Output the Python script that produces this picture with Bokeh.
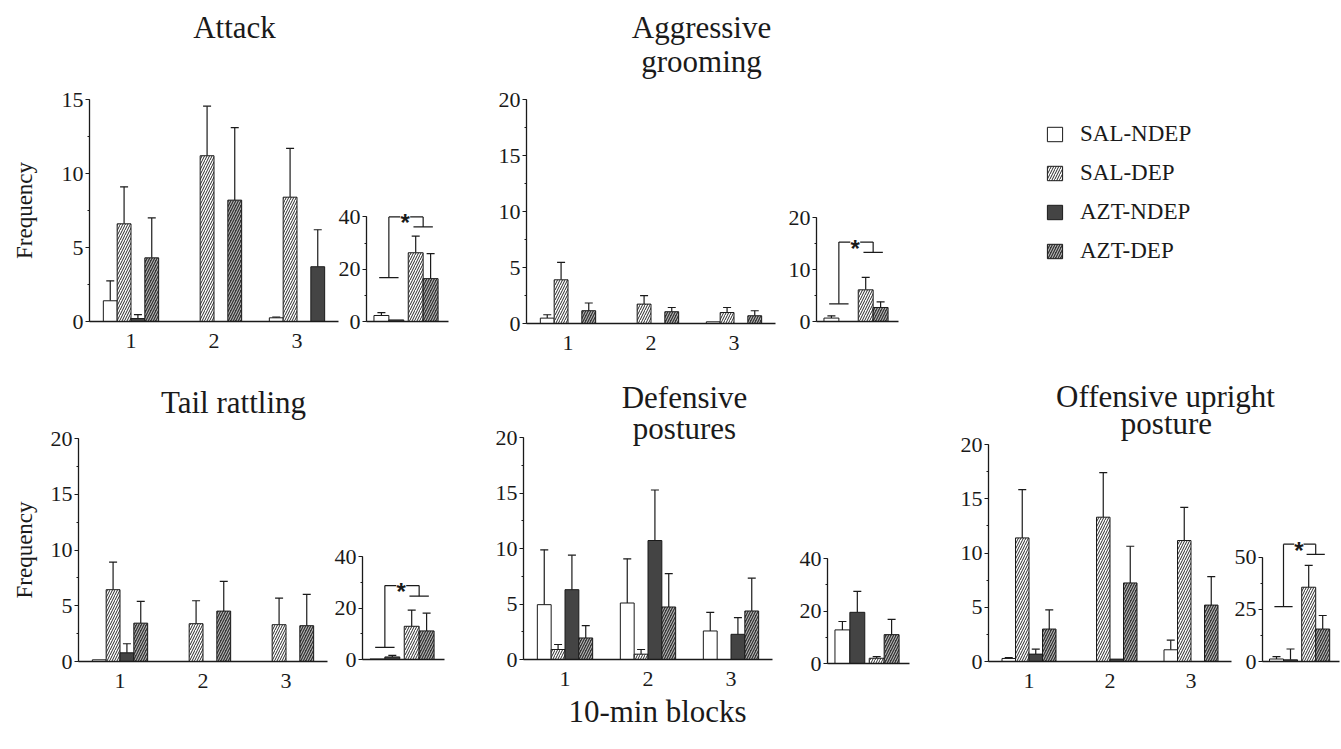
from bokeh.plotting import figure
from bokeh.models import (Range1d, ColumnDataSource, Whisker, TeeHead, FixedTicker,
                          SingleIntervalTicker, Legend, LegendItem)
from bokeh.layouts import column
from bokeh.core.properties import value
from bokeh.embed import file_html
from bokeh.resources import INLINE

# ------------------------------------------------------------------ data
blocks = [1, 2, 3]
groups = ["SAL-NDEP", "SAL-DEP", "AZT-NDEP", "AZT-DEP"]
inset_groups = ["SAL-NDEP", "AZT-NDEP", "SAL-DEP", "AZT-DEP"]

# rows follow `groups`, columns follow `blocks`
attack_mean = [[1.4, 0.0, 0.25], [6.6, 11.2, 8.4], [0.2, 0.0, 0.0], [4.3, 8.2, 3.7]]
attack_err = [[1.35, 0.0, 0.05], [2.5, 3.35, 3.3], [0.27, 0.0, 0.0], [2.7, 4.9, 2.5]]
attack_total = [2.3, 0.6, 26.3, 16.4]          # order of inset_groups
attack_total_err = [1.1, 0.0, 6.4, 9.6]
attack_sig = [16.8, 40.0, 36.2]                # NDEP level, bracket top, DEP level

grooming_mean = [[0.48, 0.0, 0.15], [3.9, 1.73, 0.98], [0.0, 0.0, 0.0], [1.14, 1.05, 0.69]]
grooming_err = [[0.3, 0.0, 0.0], [1.56, 0.75, 0.45], [0.0, 0.0, 0.0], [0.69, 0.38, 0.45]]
grooming_total = [0.66, 0.0, 6.1, 2.7]
grooming_total_err = [0.44, 0.0, 2.4, 1.1]
grooming_sig = [3.4, 15.3, 13.3]

tail_mean = [[0.15, 0.0, 0.0], [6.44, 3.39, 3.3], [0.78, 0.0, 0.0], [3.44, 4.52, 3.21]]
tail_err = [[0.0, 0.0, 0.0], [2.48, 2.06, 2.39], [0.81, 0.0, 0.0], [1.95, 2.67, 2.81]]
tail_total = [0.2, 1.0, 12.9, 11.1]
tail_total_err = [0.0, 0.6, 6.3, 6.9]
tail_sig = [4.7, 28.7, 24.6]

defensive_mean = [[4.94, 5.09, 2.57], [0.9, 0.48, 0.0], [6.29, 10.72, 2.27], [1.94, 4.73, 4.37]]
defensive_err = [[4.94, 3.98, 1.68], [0.45, 0.42, 0.0], [3.11, 4.55, 1.5], [1.11, 3.0, 2.96]]
defensive_total = [12.8, 19.5, 2.0, 11.0]
defensive_total_err = [3.2, 8.0, 0.6, 5.8]

upright_mean = [[0.28, 0.0, 1.08], [11.39, 13.3, 11.15], [0.68, 0.22, 0.0], [2.99, 7.24, 5.2]]
upright_err = [[0.09, 0.0, 0.89], [4.46, 4.1, 3.05], [0.46, 0.0, 0.0], [1.76, 3.38, 2.62]]
upright_total = [1.2, 0.8, 35.7, 15.6]
upright_total_err = [1.1, 5.2, 10.5, 6.5]
upright_sig = [26.4, 56.4, 51.5]

# ------------------------------------------------------------------ layout / style
OX, OY = 0, 0          # Bokeh's standalone page has no body margin
W, H = 1340, 748       # every layer has the same size and they are stacked
SERIF = "Liberation Serif"
INK = "#1a1a1a"
BAR_W = 1 / 6
INSET_X = [1.0, 2.0, 3.3, 4.3]

STYLE = {
    "SAL-NDEP": dict(fill_color="white", line_color=INK),
    "SAL-DEP": dict(fill_color="white", hatch_pattern="/", hatch_color="#2a2a2a",
                    hatch_scale=5, hatch_weight=1.0, line_color=INK),
    "AZT-NDEP": dict(fill_color="#444444", line_color=INK),
    "AZT-DEP": dict(fill_color="#353535", hatch_pattern="/", hatch_color="#c8c8c8",
                    hatch_scale=5, hatch_weight=1.0, line_color=INK),
}


def frame_figure(box, xr, yr):
    L, T, R, B = box
    p = figure(width=W, height=H, title=None, output_backend="svg", toolbar_location=None,
               x_range=Range1d(*xr), y_range=Range1d(*yr), frame_align=False,
               min_border_left=round(L - OX), min_border_right=round(OX + W - R),
               min_border_top=round(T - OY), min_border_bottom=round(OY + H - B),
               background_fill_color=None, border_fill_color=None, outline_line_color=None)
    p.xgrid.visible = False
    p.ygrid.visible = False
    return p


def style_y(p, step, top, label=None, standoff=10):
    ax = p.yaxis[0]
    ax.ticker = SingleIntervalTicker(interval=step, num_minor_ticks=2)
    ax.bounds = (0, top)
    ax.axis_line_color = INK
    ax.axis_line_width = 1.3
    ax.major_tick_line_color = INK
    ax.major_tick_out = 4
    ax.major_tick_in = 0
    ax.minor_tick_line_color = INK
    ax.minor_tick_out = 2
    ax.minor_tick_in = 0
    ax.major_label_text_font = SERIF
    ax.major_label_text_font_size = "22px"
    ax.major_label_text_color = INK
    ax.major_label_standoff = 2
    if label:
        ax.axis_label = label
        ax.axis_label_text_font = SERIF
        ax.axis_label_text_font_size = "23px"
        ax.axis_label_text_font_style = "normal"
        ax.axis_label_text_color = INK
        ax.axis_label_standoff = standoff


def style_x(p, ticks, bounds):
    ax = p.xaxis[0]
    ax.ticker = FixedTicker(ticks=ticks)
    ax.bounds = bounds
    ax.axis_line_color = INK
    ax.axis_line_width = 1.3
    ax.major_tick_line_color = None
    ax.minor_tick_line_color = None
    ax.major_tick_out = 0
    ax.minor_tick_out = 0
    ax.major_label_text_font = SERIF
    ax.major_label_text_font_size = "22px"
    ax.major_label_text_color = INK
    ax.major_label_standoff = 12


def draw_bars(p, xs, tops, style, width):
    keep = [i for i, t in enumerate(tops) if t > 0]
    src = ColumnDataSource(dict(x=[xs[i] for i in keep], top=[tops[i] for i in keep]))
    p.vbar(x="x", top="top", width=width, source=src, line_width=1, **style)


def draw_err(p, xs, tops, errs):
    keep = [i for i in range(len(tops)) if errs[i] > 0]
    src = ColumnDataSource(dict(x=[xs[i] for i in keep],
                                lo=[tops[i] for i in keep],
                                hi=[tops[i] + errs[i] for i in keep]))
    p.add_layout(Whisker(source=src, base="x", lower="lo", upper="hi", dimension="height",
                         line_color=INK, line_width=1.2,
                         upper_head=TeeHead(size=8, line_color=INK, line_width=1.2),
                         lower_head=None))


def main_panel(box, ymax, means, errs, ylabel=None, standoff=10, solid=()):
    p = frame_figure(box, (0.5, 3.5), (0, ymax))
    for gi, g in enumerate(groups):
        xs = [b + (gi - 1.5) * BAR_W for b in blocks]
        hatched = [i for i in range(len(blocks)) if (g, blocks[i]) not in solid]
        plain = [i for i in range(len(blocks)) if (g, blocks[i]) in solid]
        draw_bars(p, [xs[i] for i in hatched], [means[gi][i] for i in hatched], STYLE[g], BAR_W)
        if plain:
            draw_bars(p, [xs[i] for i in plain], [means[gi][i] for i in plain],
                      STYLE["AZT-NDEP"], BAR_W)
        draw_err(p, xs, means[gi], errs[gi])
    style_y(p, 5, ymax, ylabel, standoff)
    style_x(p, blocks, (0.5, 3.5))
    return p


def inset_panel(box, xmax, ytop, axis_top, step, totals, terrs, sig=None):
    p = frame_figure(box, (0, xmax), (0, ytop))
    for k, g in enumerate(inset_groups):
        draw_bars(p, [INSET_X[k]], [totals[k]], STYLE[g], 1.0)
    draw_err(p, INSET_X, totals, terrs)
    if sig is not None:
        low, top, high = sig
        xl = (INSET_X[0] + INSET_X[1]) / 2
        xr = (INSET_X[2] + INSET_X[3]) / 2
        hw, xs, gap = 0.65, 2.6, 0.33
        p.segment(x0=[xl - hw, xl, xl, xs + gap, xr, xr - hw],
                  y0=[low, low, top, top, top, high],
                  x1=[xl + hw, xl, xs - gap, xr, xr, xr + hw],
                  y1=[low, top, top, top, high, high],
                  line_color=INK, line_width=1.2)
        p.text(x=[xs], y=[top], text=["*"], text_font=value("Liberation Sans"),
               text_font_style="bold", text_font_size="24px", text_align="center",
               text_baseline="middle", y_offset=6, text_color=INK)
    style_y(p, step, axis_top)
    style_x(p, [], (0, xmax))
    return p


# frames: (left, top, right, bottom) in page pixels
panels = [
    main_panel((89, 99, 338, 321), 15, attack_mean, attack_err, "Frequency", 22,
               solid={("AZT-DEP", 3)}),
    inset_panel((366, 205.5, 448.5, 321), 5.5, 44, 40, 20, attack_total, attack_total_err, attack_sig),
    main_panel((526, 99.3, 775, 322.7), 20, grooming_mean, grooming_err),
    inset_panel((815.7, 212.1, 898.2, 320.7), 5.5, 21, 20, 10, grooming_total, grooming_total_err,
                grooming_sig),
    main_panel((78, 438.3, 327, 661), 20, tail_mean, tail_err, "Frequency", 11),
    inset_panel((361.7, 555.7, 444.2, 659.3), 5.5, 40, 40, 20, tail_total, tail_total_err, tail_sig),
    main_panel((523.3, 436.7, 772.3, 659.3), 20, defensive_mean, defensive_err),
    inset_panel((826.7, 558.3, 909.2, 662.7), 5.5, 40, 40, 20, defensive_total, defensive_total_err),
    main_panel((988.3, 444, 1231.3, 660.7), 20, upright_mean, upright_err),
    inset_panel((1261.7, 532.5, 1339, 660.7), 5.5, 62, 50, 25, upright_total, upright_total_err,
                upright_sig),
]

# ------------------------------------------------------------------ titles, legend, x label
annot = figure(width=W, height=H, title=None, x_range=Range1d(OX, OX + W), y_range=Range1d(OY + H, OY),
               x_axis_type=None, y_axis_type=None, min_border=0, output_backend="svg",
               toolbar_location=None, background_fill_color=None, border_fill_color=None,
               outline_line_color=None, frame_align=False)

title_text = ["Attack", "Aggressive", "grooming", "Tail rattling", "Defensive", "postures",
              "Offensive upright", "posture"]
title_x = [234, 701, 701, 233, 684, 684, 1165, 1166]
title_y = [27, 27, 61, 402, 397, 428, 396, 423]
annot.text(x=title_x, y=title_y, text=title_text, text_font=value(SERIF), text_font_size="31px",
           text_align="center", text_baseline="alphabetic", text_color=INK)
annot.text(x=[657], y=[711], text=["10-min blocks"], text_font=value(SERIF), text_font_size="31px",
           text_align="center", text_baseline="alphabetic", text_color=INK)

items = []
for g in groups:
    r = annot.vbar(x=[0], top=[1], width=1, visible=False, line_width=1, **STYLE[g])
    items.append(LegendItem(label=g, renderers=[r]))
LEG_LEFT, LEG_BOTTOM = 1045, 264
legend = Legend(items=items, location=(LEG_LEFT - OX, OY + H - LEG_BOTTOM), orientation="vertical",
                glyph_width=19, glyph_height=18, label_standoff=16, label_height=26, spacing=13,
                padding=0, margin=0, border_line_color=None, background_fill_alpha=0,
                label_text_font=SERIF, label_text_font_size="23px", label_text_color=INK)
annot.add_layout(legend)

layers = [annot] + panels
for f in layers[1:]:
    f.margin = (-H, 0, 0, 0)
page = column(*layers, spacing=0)

with open("out.html", "w") as fh:
    fh.write(file_html(page, INLINE))
